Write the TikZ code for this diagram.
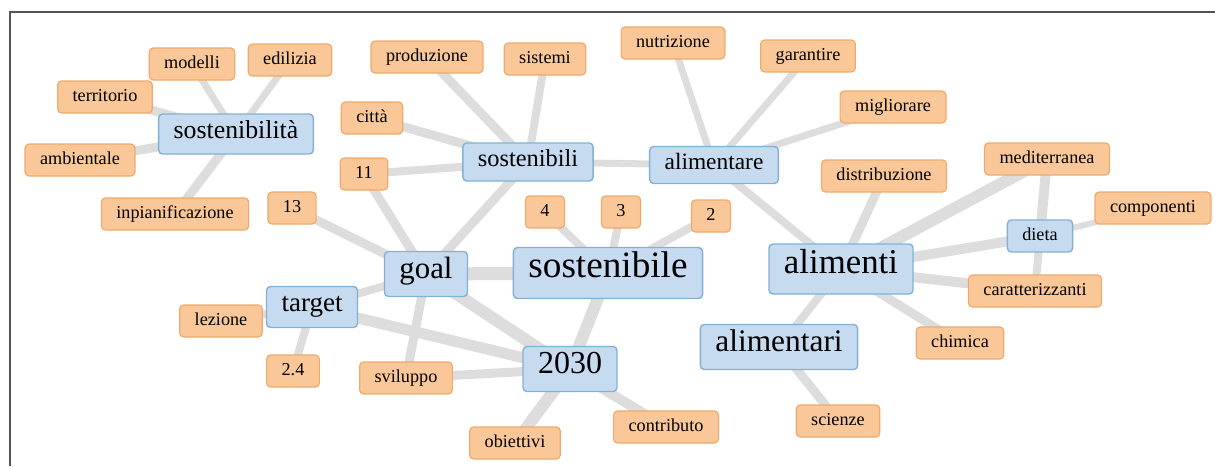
\documentclass[tikz,border=0pt]{standalone}
\usepackage{fontspec}
\setmainfont{Liberation Serif}
\usetikzlibrary{backgrounds}
\definecolor{topicfill}{RGB}{198,219,240}
\definecolor{topicdraw}{RGB}{128,178,214}
\definecolor{leaffill}{RGB}{250,200,152}
\definecolor{leafdraw}{RGB}{238,170,108}
\definecolor{linkgray}{RGB}{221,221,221}
\definecolor{framegray}{RGB}{85,85,85}
\tikzset{
    % blue key words: font size, box height
    topic/.style 2 args = {rectangle, rounded corners=2pt, draw=topicdraw, line width=0.7pt, fill=topicfill, inner xsep=7.5pt, inner ysep=0pt, minimum height=#2, text height=0.68em, text depth=0.2em, font=\fontsize{#1}{#1}\selectfont},
    leaf/.style = {rectangle, rounded corners=2pt, draw=leafdraw, line width=0.6pt, fill=leaffill, inner xsep=7.5pt, inner ysep=0pt, minimum height=16pt, text height=0.68em, text depth=0.2em, font=\fontsize{9.1}{10}\selectfont},
    link/.style = {line width=#1, draw=linkgray},
    link/.default = 4pt
}

\begin{document}
\begin{tikzpicture}[x=0.5pt, y=-0.5pt]

\useasboundingbox (0,0) rectangle (1215,466);
\draw[framegray, line width=1pt] (10,466) -- (10,12) -- (1215,12);

% Key words
\node[topic={12.9}{20pt}] (sostenibilita) at (236,134) {sostenibilità};
\node[topic={12.2}{19pt}] (sostenibili) at (528,162) {sostenibili};
\node[topic={11.7}{18.5pt}] (alimentare) at (714,165) {alimentare};
\node[topic={15.4}{22.5pt}] (goal) at (426,274) {goal};
\node[topic={18.6}{25.5pt}] (sostenibile) at (608,273) {sostenibile};
\node[topic={17.4}{25pt}] (alimenti) at (841,269) {alimenti};
\node[topic={13.5}{20.5pt}] (target) at (312,307) {target};
\node[topic={16}{22.5pt}] (anno) at (570,369) {2030};
\node[topic={15.7}{22.5pt}] (alimentari) at (779,347) {alimentari};
\node[topic={9.1}{16pt}] (dieta) at (1040,236) {dieta};

% Leaves
\node[leaf] (modelli) at (192,64) {modelli};
\node[leaf] (edilizia) at (290,60) {edilizia};
\node[leaf] (territorio) at (105,97) {territorio};
\node[leaf] (ambientale) at (80,160) {ambientale};
\node[leaf] (inpianificazione) at (175,214) {inpianificazione};
\node[leaf] (citta) at (372,118) {città};
\node[leaf] (n11) at (364,174) {11};
\node[leaf] (n13) at (292,208) {13};
\node[leaf] (produzione) at (427,57) {produzione};
\node[leaf] (sistemi) at (545,59) {sistemi};
\node[leaf] (nutrizione) at (673,43) {nutrizione};
\node[leaf] (garantire) at (808,56) {garantire};
\node[leaf] (migliorare) at (893,107) {migliorare};
\node[leaf] (n4) at (545,212) {4};
\node[leaf] (n3) at (621,212) {3};
\node[leaf] (n2) at (711,216) {2};
\node[leaf] (distribuzione) at (884,176) {distribuzione};
\node[leaf] (mediterranea) at (1047,159) {mediterranea};
\node[leaf] (componenti) at (1153,208) {componenti};
\node[leaf] (caratterizzanti) at (1035,291) {caratterizzanti};
\node[leaf] (chimica) at (960,343) {chimica};
\node[leaf] (scienze) at (838,421) {scienze};
\node[leaf] (lezione) at (221,321) {lezione};
\node[leaf] (n24) at (293,371) {2.4};
\node[leaf] (sviluppo) at (406,378) {sviluppo};
\node[leaf] (obiettivi) at (515,443) {obiettivi};
\node[leaf] (contributo) at (666,427) {contributo};

% Links
\begin{pgfonlayer}{background}
\draw[link=3.5pt] (sostenibilita.center) -- (modelli.center);
\draw[link=3.5pt] (sostenibilita.center) -- (edilizia.center);
\draw[link=4.5pt] (sostenibilita.center) -- (territorio.center);
\draw[link=4.5pt] (sostenibilita.center) -- (ambientale.center);
\draw[link=4.5pt] (sostenibilita.center) -- (inpianificazione.center);

\draw[link=4.5pt] (sostenibili.center) -- (produzione.center);
\draw[link=4pt] (sostenibili.center) -- (sistemi.center);
\draw[link=4.5pt] (sostenibili.center) -- (citta.center);
\draw[link=4pt] (sostenibili.center) -- (n11.center);
\draw[link=3.5pt] (sostenibili.center) -- (alimentare.center);
\draw[link=4.5pt] (sostenibili.center) -- (goal.center);

\draw[link=3.5pt] (alimentare.center) -- (nutrizione.center);
\draw[link=3.5pt] (alimentare.center) -- (garantire.center);
\draw[link=3.5pt] (alimentare.center) -- (migliorare.center);
\draw[link=4pt] (alimentare.center) -- (alimenti.center);

\draw[link=4.5pt] (goal.center) -- (n11.center);
\draw[link=4.5pt] (goal.center) -- (n13.center);
\draw[link=4pt] (goal.center) -- (target.center);
\draw[link=4.5pt] (goal.center) -- (sviluppo.center);
\draw[link=6.5pt] (goal.center) -- (sostenibile.center);
\draw[link=6pt] (goal.center) -- (anno.center);

\draw[link=4pt] (sostenibile.center) -- (n4.center);
\draw[link=4pt] (sostenibile.center) -- (n3.center);
\draw[link=4pt] (sostenibile.center) -- (n2.center);
\draw[link=6pt] (sostenibile.center) -- (anno.center);

\draw[link=5.5pt] (anno.center) -- (target.center);
\draw[link=4.5pt] (anno.center) -- (sviluppo.center);
\draw[link=6pt] (anno.center) -- (obiettivi.center);
\draw[link=5pt] (anno.center) -- (contributo.center);

\draw[link=4pt] (target.center) -- (lezione.center);
\draw[link=4pt] (target.center) -- (n24.center);

\draw[link=4.5pt] (alimenti.center) -- (distribuzione.center);
\draw[link=6pt] (alimenti.center) -- (mediterranea.center);
\draw[link=5pt] (alimenti.center) -- (dieta.center);
\draw[link=5pt] (alimenti.center) -- (caratterizzanti.center);
\draw[link=4.5pt] (alimenti.center) -- (chimica.center);
\draw[link=4pt] (alimenti.center) -- (alimentari.center);

\draw[link=5pt] (dieta.center) -- (mediterranea.center);
\draw[link=3pt] (dieta.center) -- (componenti.center);
\draw[link=4pt] (dieta.center) -- (caratterizzanti.center);

\draw[link=4.5pt] (alimentari.center) -- (scienze.center);
\end{pgfonlayer}

\end{tikzpicture}
\end{document}
